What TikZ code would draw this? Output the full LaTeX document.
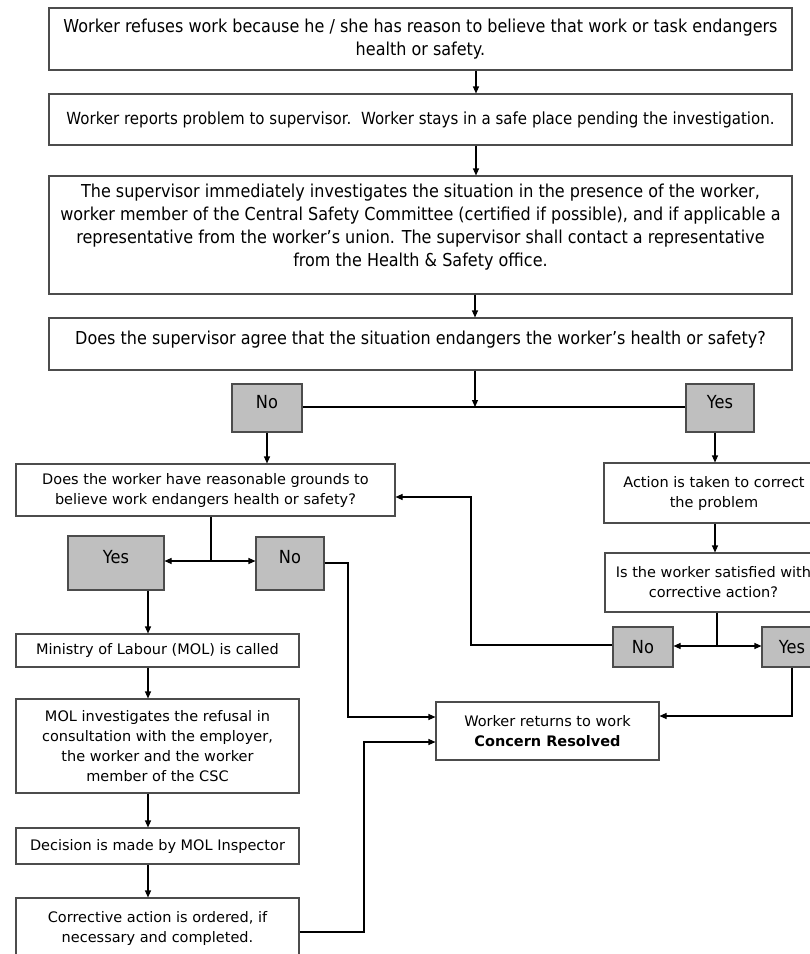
\documentclass[tikz,border=0pt]{standalone}
\usepackage{fontspec}
\setmainfont{DejaVu Sans}
\newfontfamily\topfont[FakeStretch=0.9]{DejaVu Sans}
\usetikzlibrary{arrows.meta}
\newcommand{\fbig}{\topfont\fontsize{17.8}{23}\selectfont}
\newcommand{\fmid}{\topfont\fontsize{17.8}{23}\selectfont}
\newcommand{\fsmall}{\topfont\fontsize{16.7}{20}\selectfont}
\newcommand{\fyn}{\topfont\fontsize{18}{20}\selectfont}
\newcommand{\flow}{\fontsize{14.5}{20}\selectfont}
\begin{document}
\begin{tikzpicture}[x=1pt,y=-1pt,
  box/.style={draw=black!70, line width=1.1pt, fill=white, inner sep=0pt, align=center, text=black},
  yn/.style={box, fill=gray!50},
  arr/.style={line width=1.1pt, -{Triangle[length=7pt,width=6pt]}},
  ln/.style={line width=1.1pt},
  wh/.style 2 args={minimum width=#1pt, minimum height=#2pt}]
\useasboundingbox (0,0) rectangle (810,954);
\clip (0,0) rectangle (810,954);
\fill[white] (0,0) rectangle (810,954);

% top chain
\node[box, wh={743}{62}, font=\fbig] (b1) at (420.5,39)
  {Worker refuses work because he / she has reason to believe that work or task endangers\\ health or safety.};
\node[box, wh={743}{51}, font=\fsmall] (b2) at (420.5,119.5)
  {Worker reports problem to supervisor.\ \ Worker stays in a safe place pending the investigation.};
\node[box, wh={743}{118}, font=\fmid, text depth=20pt] (b3) at (420.5,235)
  {The supervisor immediately investigates the situation in the presence of the worker,\\
   worker member of the Central Safety Committee (certified if possible), and if applicable a\\
   representative from the worker’s union. The supervisor shall contact a representative\\
   from the Health \& Safety office.};
\node[box, wh={743}{52}, font=\fmid] (b4) at (420.5,344)
  {\smash{Does the supervisor agree that the situation endangers the worker’s health or safety?}};

\node[yn, wh={70}{48}, font=\fyn] (no1) at (267,408) {\smash{No}};
\node[yn, wh={68}{48}, font=\fyn] (yes1) at (720,408) {\smash{Yes}};

% left branch
\node[box, wh={379}{52}, font=\flow] (q2) at (205.5,490)
  {\fontsize{14.5}{21}\selectfont Does the worker have reasonable grounds to\\ believe work endangers health or safety?};
\node[yn, wh={96}{54}, font=\fyn] (yes2) at (116,563) {\smash{Yes}};
\node[yn, wh={68}{53}, font=\fyn] (no2) at (290,563.5) {\smash{No}};
\node[box, wh={283}{33}, font=\flow] (mol1) at (157.5,650.5) {Ministry of Labour (MOL) is called};
\node[box, wh={283}{94}, font=\flow] (mol2) at (157.5,746)
  {MOL investigates the refusal in\\ consultation with the employer,\\ the worker and the worker\\ member of the CSC};
\node[box, wh={283}{36}, font=\flow] (dec) at (157.5,846) {Decision is made by MOL Inspector};
\node[box, wh={283}{60}, font=\flow] (corr) at (157.5,928)
  {Corrective action is ordered, if\\ necessary and completed.};

% right branch
\node[box, wh={220}{60}, font=\flow] (act) at (714,493) {Action is taken to correct\\ the problem};
\node[box, wh={217}{59}, font=\flow] (sat) at (713.5,582.5) {Is the worker satisfied with\\ corrective action?};
\node[yn, wh={60}{40}, font=\fyn] (no3) at (643,647) {No};
\node[yn, wh={60}{40}, font=\fyn] (yes3) at (792,647) {Yes};
\node[box, wh={223}{58}, font=\flow] (ret) at (547.5,731)
  {Worker returns to work\\ \textbf{Concern Resolved}};

% helper coordinates
\coordinate (xa) at (476,0);
\coordinate (xb) at (475,0);
\coordinate (j1) at (475,407);
\coordinate (j2) at (211,561);
\coordinate (j3) at (717,646);
\coordinate (xr) at (715,0);
\coordinate (xl) at (148,0);
\coordinate (p1) at (348,563);
\coordinate (p2) at (348,717);
\coordinate (p3) at (364,932);
\coordinate (p4) at (364,742);
\coordinate (p5) at (792,716);
\coordinate (p6) at (471,645);
\coordinate (p7) at (471,497);

% connectors
\draw[arr] (b1.south -| xa) -- (b2.north -| xa);
\draw[arr] (b2.south -| xa) -- (b3.north -| xa);
\draw[arr] (b3.south -| xb) -- (b4.north -| xb);
\draw[arr] (b4.south -| xb) -- (j1);
\draw[ln] (no1.east |- j1) -- (yes1.west |- j1);
\draw[arr] (no1.south) -- (q2.north -| no1.south);
\draw[arr] (yes1.south -| xr) -- (act.north -| xr);
\draw[arr] (act.south -| xr) -- (sat.north -| xr);
\draw[ln] (sat.south -| j3) -- (j3);
\draw[arr] (j3) -- (no3.east |- j3);
\draw[arr] (j3) -- (yes3.west |- j3);
\draw[ln] (q2.south -| j2) -- (j2);
\draw[arr] (j2) -- (yes2.east |- j2);
\draw[arr] (j2) -- (no2.west |- j2);
\draw[arr] (yes2.south -| xl) -- (mol1.north -| xl);
\draw[arr] (mol1.south -| xl) -- (mol2.north -| xl);
\draw[arr] (mol2.south -| xl) -- (dec.north -| xl);
\draw[arr] (dec.south -| xl) -- (corr.north -| xl);
\draw[arr] (no2.east |- p1) -- (p1) -- (p2) -- (ret.west |- p2);
\draw[arr] (corr.east |- p3) -- (p3) -- (p4) -- (ret.west |- p4);
\draw[arr] (yes3.south -| p5) -- (p5) -- (ret.east |- p5);
\draw[arr] (no3.west |- p6) -- (p6) -- (p7) -- (q2.east |- p7);
\end{tikzpicture}
\end{document}
